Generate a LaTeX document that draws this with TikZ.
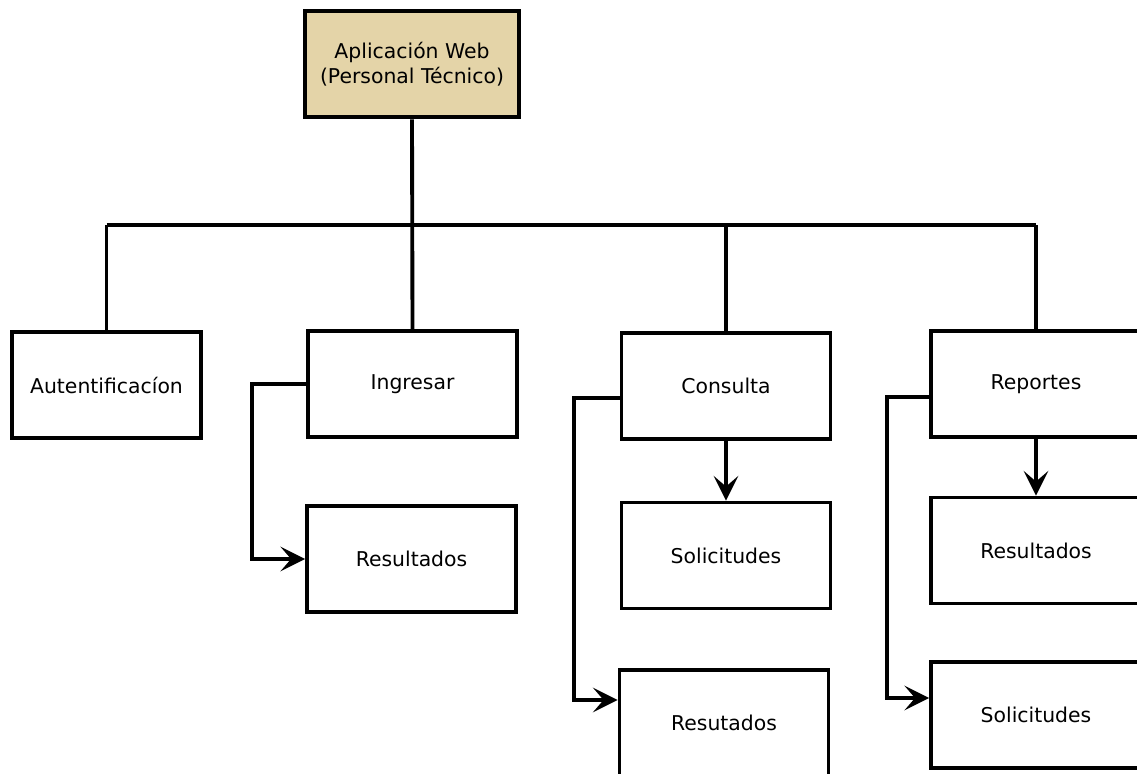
\documentclass[tikz,border=0pt]{standalone}
\usepackage{fontspec}
\setmainfont{DejaVu Sans}
\usetikzlibrary{arrows.meta,calc}
\definecolor{arena}{RGB}{228,212,168}

\begin{document}
\begin{tikzpicture}
  [x=0.02cm, y=-0.02cm,
   every node/.style={draw, line width=2.2pt, align=center, inner sep=0pt,
     minimum width=4.18cm, minimum height=2.12cm,
     font=\fontsize{11.6}{14.4}\selectfont},
   raiz/.style={fill=arena, line width=2.6pt, minimum width=4.28cm},
   linea/.style={line width=2.2pt},
   flecha/.style={line width=2.2pt, -{Stealth[length=14pt, width=14pt, inset=6pt]}}]
  \useasboundingbox (0,0) rectangle (1137,774);
  \clip (0,0) rectangle (1137,774);

  \node[raiz] (app) at (412,64) {Aplicación Web\\(Personal Técnico)};

  \node[minimum width=3.78cm] (autent) at (106.5,385) {Autentificacíon};
  \node (ingresar) at (412.5,384) {Ingresar};
  \node (consulta) at (726,386) {Consulta};
  \node[minimum width=4.2cm] (reportes) at (1036,384) {Reportes};

  \node (resIng) at (411.5,559) {Resultados};
  \node (solCon) at (726,555.5) {Solicitudes};
  \node (resCon) at (724,723) {Resutados};
  \node[minimum width=4.2cm] (resRep) at (1036,550.5) {Resultados};
  \node[minimum width=4.2cm] (solRep) at (1036,715) {Solicitudes};

  \coordinate (bus) at (0,225);
  \draw[linea] (app.south) -- (ingresar.north);
  \draw[linea] (autent.north |- bus) -- (reportes.north |- bus);
  \draw[linea] (autent.north |- bus) -- (autent.north);
  \draw[linea] (consulta.north |- bus) -- (consulta.north);
  \draw[linea] (reportes.north |- bus) -- (reportes.north);

  \draw[flecha] (ingresar.west) -- ++(-54,0) |- (resIng.west);
  \draw[flecha] ($(consulta.west)+(0,12)$) -- ++(-46,0) |- ($(resCon.west)+(0,-23)$);
  \draw[flecha] ($(reportes.west)+(0,13)$) -- ++(-42,0) |- ($(solRep.west)+(0,-17)$);

  \draw[flecha] (consulta.south) -- (solCon.north);
  \draw[flecha] (reportes.south) -- (resRep.north);
\end{tikzpicture}
\end{document}
